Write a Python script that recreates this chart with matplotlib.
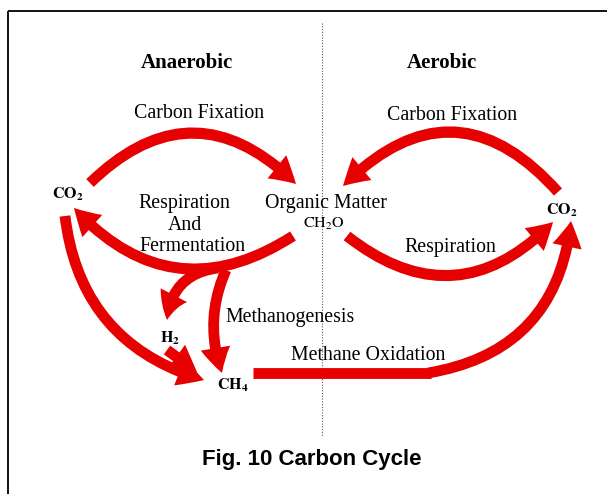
import matplotlib
matplotlib.use("Agg")
import matplotlib.pyplot as plt
from matplotlib.patches import FancyArrowPatch, Rectangle

W, H = 607, 494
RED = "#e60000"
SERIF = ["Liberation Serif", "DejaVu Serif"]

# text labels: (text, x, y, size, weight)
labels = [
    ("Anaerobic", 187, 63, 15, "bold"),
    ("Aerobic", 442, 63, 15, "bold"),
    ("Carbon Fixation", 199, 113, 14.3, "normal"),
    ("Carbon Fixation", 452, 115, 14.3, "normal"),
    ("Respiration", 184, 203, 14.3, "normal"),
    ("And", 185, 225, 14.3, "normal"),
    ("Fermentation", 192, 246, 14.3, "normal"),
    ("Organic Matter", 326, 203, 14.3, "normal"),
    ("Respiration", 450, 247, 14.3, "normal"),
    ("Methanogenesis", 290, 317, 14.3, "normal"),
    ("Methane Oxidation", 368, 355, 14.3, "normal"),
]
# chemical species: (mathtext, x, y, size)
species = [
    (r"$\mathbf{CO_2}$", 68, 194, 11.5),
    (r"$\mathbf{CO_2}$", 562, 210, 11.5),
    (r"$\mathrm{CH_2O}$", 324, 224, 11.5),
    (r"$\mathbf{H_2}$", 170, 338, 11.5),
    (r"$\mathbf{CH_4}$", 233, 385, 11.5),
]
# curved arrows: (start, end, rad)
arrows = [
    ((90, 183), (296, 184), -0.49),   # carbon fixation, anaerobic
    ((293, 236), (74, 208), -0.42),   # respiration & fermentation
    ((558, 192), (343, 186), 0.53),   # carbon fixation, aerobic
    ((347, 236), (553, 222), 0.45),   # respiration, aerobic
    ((65, 216), (204, 380), 0.33),    # CO2 -> CH4
    ((218, 268), (167, 320), 0.40),   # -> H2
    ((226, 270), (222, 373), 0.20),   # methanogenesis
    ((167, 350), (197, 372), 0.0),    # H2 -> CH4
    ((428, 373), (571, 221), 0.38),   # methane oxidation (curved part)
]
oxidation_bar = ((253, 373), (431, 373))

fig = plt.figure(figsize=(W / 100, H / 100), dpi=100)
ax = fig.add_axes([0, 0, 1, 1])
ax.set_xlim(0, W)
ax.set_ylim(H, 0)
ax.axis("off")

# frame and divider
ax.add_patch(Rectangle((8, 11), W + 10, H + 10, fill=False, lw=1.3, ec="black"))
ax.plot([322, 322], [23, 437], ls=(0, (1, 1.5)), color="#555555", lw=0.8)

ax.plot([oxidation_bar[0][0], oxidation_bar[1][0]],
        [oxidation_bar[0][1], oxidation_bar[1][1]],
        color=RED, lw=7.8, solid_capstyle="butt")

for start, end, rad in arrows:
    ax.add_patch(FancyArrowPatch(
        start, end, connectionstyle=f"arc3,rad={rad}",
        arrowstyle="simple,head_width=0.58,head_length=0.5,tail_width=0.21",
        mutation_scale=37, color=RED, lw=0, shrinkA=0, shrinkB=0))

for text, x, y, size, weight in labels:
    ax.text(x, y, text, ha="center", va="center", fontsize=size,
            fontweight=weight, family=SERIF)

plt.rcParams["mathtext.fontset"] = "stix"
for text, x, y, size in species:
    ax.text(x, y, text, ha="center", va="center", fontsize=size)

ax.text(312, 459, "Fig. 10 Carbon Cycle", ha="center", va="center",
        fontsize=16, fontweight="bold",
        family=["Liberation Sans Narrow", "Liberation Sans"])

fig.savefig("out.png", dpi=100)
